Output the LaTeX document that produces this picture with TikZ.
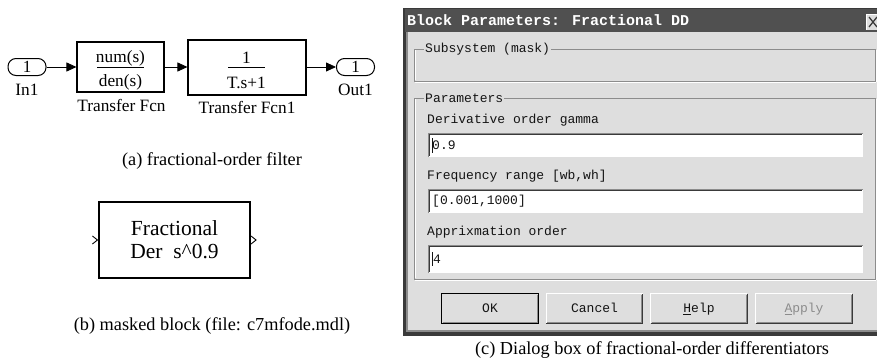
\documentclass[tikz,border=0pt]{standalone}
\usepackage{fontspec}
\setmainfont{Liberation Serif}
\newfontfamily\dlgfont{Liberation Mono}
\usetikzlibrary{arrows.meta}
\definecolor{dlgbg}{HTML}{DEDEDE}
\definecolor{titlegray}{HTML}{505050}
\definecolor{darkedge}{HTML}{3A3A3A}
\definecolor{etch}{HTML}{8C8C8C}
\definecolor{dlgtext}{HTML}{141414}
\begin{document}
\begin{tikzpicture}[x=1pt,y=-1pt,
  simtxt/.style={font=\fontsize{17.3}{19}\selectfont, inner sep=0pt},
  blk/.style={draw, line width=1.1pt, inner sep=0pt},
  port/.style={draw, line width=1pt, rounded corners=8pt, minimum width=38pt, minimum height=17pt, inner sep=0pt, font=\fontsize{17}{19}\selectfont},
  sig/.style={-{Triangle[length=10pt,width=9pt]}, line width=0.8pt},
  captxt/.style={font=\fontsize{18.3}{21}\selectfont, inner sep=0pt},
  dtext/.style={font=\dlgfont\fontsize{13}{15}\selectfont, text=dlgtext, inner sep=0pt, anchor=west},
  field/.style={fill=white},
  btn/.style={fill=dlgbg, draw=none, minimum width=96pt, minimum height=29pt, inner sep=0pt},
  btntxt/.style={font=\dlgfont\fontsize{13}{15}\selectfont, text=dlgtext, inner sep=0pt, anchor=base}
]
\useasboundingbox (0,0) rectangle (877,362);
\fill[white] (0,0) rectangle (877,362);

% ---------- (a) fractional-order filter ----------
\node[port] (in1) at (27,67) {1};
\node[simtxt] (in1lbl) at (27,90) {In1};
\node[blk, minimum width=87pt, minimum height=50pt] (tf1) at (120.5,67) {};
\node[simtxt] (tf1num) at (120.5,58) {num(s)};
\node[simtxt] (tf1den) at (120.5,82) {den(s)};
\draw[line width=0.8pt] (97,67) -- (144,67);
\node[simtxt] (tf1lbl) at (121.5,105) {Transfer Fcn};
\node[blk, minimum width=118pt, minimum height=55pt] (tf2) at (247,67.5) {};
\node[simtxt] (tf2num) at (246.5,58) {1};
\node[simtxt] (tf2den) at (246.5,83) {T.s+1};
\draw[line width=0.8pt] (228,67) -- (265,67);
\node[simtxt] (tf2lbl) at (247,107) {Transfer Fcn1};
\node[port] (out1) at (355.5,67) {1};
\node[simtxt] (out1lbl) at (355.5,90) {Out1};
\draw[sig] (in1.east) -- (tf1.west);
\draw[sig] (tf1.east) -- (tf1.east -| tf2.west);
\draw[sig] (tf1.east -| tf2.east) -- (out1.west);
\node[captxt] (capa) at (212,161) {(a) fractional-order filter};

% ---------- (b) masked block ----------
\node[blk, minimum width=151pt, minimum height=76pt] (mb) at (174.5,240) {};
\node[font=\fontsize{21.5}{23}\selectfont, inner sep=0pt] (mb1) at (174.5,228) {Fractional};
\node[font=\fontsize{21.5}{23}\selectfont, inner sep=0pt] (mb2) at (174.5,251) {Der\ \ s\^{}0.9};
\draw[line width=0.9pt] ([shift={(-6,-4)}]mb.west) -- ([shift={(-1,0)}]mb.west) -- ([shift={(-6,4)}]mb.west);
\draw[line width=0.9pt] ([shift={(0.5,-4)}]mb.east) -- ([shift={(5.5,0)}]mb.east) -- ([shift={(0.5,4)}]mb.east);
\node[captxt] (capb) at (212,326) {(b) masked block (file: c7mfode.mdl)};

% ---------- (c) dialog box ----------
\fill[darkedge] (403,8) rectangle (880,336);
\fill[etch] (406,32) rectangle (880,332);
\fill[dlgbg] (408,32) rectangle (880,330);
\fill[titlegray] (405,9) rectangle (880,32);
\node[font=\dlgfont\bfseries\fontsize{15}{17}\selectfont, text=white, inner sep=0pt, anchor=west] (title) at (407,20.5) {Block Parameters: Fractional DD};
% close button
\fill[dlgbg] (866,14) rectangle (880,30);
\draw[white, line width=0.6pt] (866.5,29.5) -- (866.5,14.5) -- (880,14.5);
\draw[darkedge, line width=1.3pt] (869,17) -- (877,27) (877,17) -- (869,27);

% group: Subsystem (mask)
\draw[etch, line width=0.8pt] (414,49) rectangle (875,81);
\draw[white, line width=0.6pt] (415,50) -- (415,80) (415,82) -- (876,82) (876,50) -- (876,82);
\node[dtext, fill=dlgbg, inner xsep=1pt] (subsys) at (424,49) {Subsystem (mask)};

% group: Parameters
\draw[etch, line width=0.8pt] (414,98) rectangle (875,279);
\draw[white, line width=0.6pt] (415,99) -- (415,278) (415,280) -- (876,280) (876,99) -- (876,280);
\node[dtext, fill=dlgbg, inner xsep=1pt] (params) at (424,98) {Parameters};

\node[dtext] (lbl1) at (427,120) {Derivative order gamma};
\fill[field] (428,133) rectangle (863,157);
\draw[etch, line width=1pt] (428,157) -- (428,133) -- (863,133);
\draw[darkedge, line width=0.8pt] (429.5,156) -- (429.5,134.5) -- (862,134.5);
\node[dtext] (val1) at (432,145.5) {0.9};
\draw[dlgtext, line width=0.8pt] (432,138) -- (432,153);

\node[dtext] (lbl2) at (427,176) {Frequency range [wb,wh]};
\fill[field] (428,189) rectangle (863,213);
\draw[etch, line width=1pt] (428,213) -- (428,189) -- (863,189);
\draw[darkedge, line width=0.8pt] (429.5,212) -- (429.5,190.5) -- (862,190.5);
\node[dtext] (val2) at (432,201.5) {[0.001,1000]};

\node[dtext] (lbl3) at (427,232) {Apprixmation order};
\fill[field] (428,245) rectangle (863,273);
\draw[etch, line width=1pt] (428,273) -- (428,245) -- (863,245);
\draw[darkedge, line width=0.8pt] (429.5,272) -- (429.5,246.5) -- (862,246.5);
\node[dtext] (val3) at (433,259) {4};
\draw[dlgtext, line width=0.8pt] (432,252) -- (432,266);

% buttons
\foreach \n/\cx in {bok/490, bcancel/594.5, bhelp/699, bapply/804} {
  \node[btn] (\n) at (\cx,308.5) {};
  \draw[white, line width=1pt] (\n.south west) -- (\n.north west) -- (\n.north east);
  \draw[etch, line width=1pt] ([shift={(1,-1)}]\n.south west) -- ([shift={(-1,-1)}]\n.south east) -- ([shift={(-1,1)}]\n.north east);
  \draw[darkedge, line width=1pt] (\n.south west) -- (\n.south east) -- (\n.north east);
}
\draw[black, line width=1.2pt] (bok.south west) rectangle (bok.north east);
\node[btntxt] (tok) at ([yshift=-4pt]bok.center) {OK};
\node[btntxt] (tcancel) at ([yshift=-4pt]bcancel.center) {Cancel};
\node[btntxt] (thelp) at ([yshift=-4pt]bhelp.center) {\underline{H}elp};
\node[btntxt, text=etch] (tapply) at ([yshift=-4pt]bapply.center) {\underline{A}pply};

\node[captxt] (capc) at (652,350) {(c) Dialog box of fractional-order differentiators};
\end{tikzpicture}
\end{document}
